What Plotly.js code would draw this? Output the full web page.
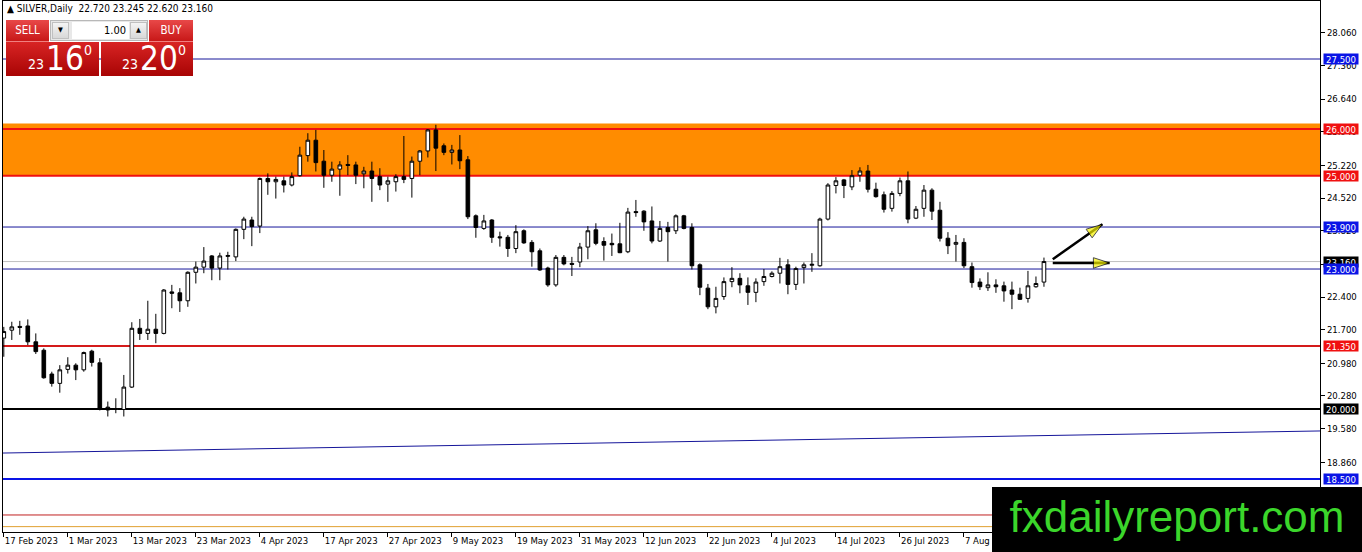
<!DOCTYPE html>
<html>
<head>
<meta charset="utf-8">
<script src="https://cdn.plot.ly/plotly-3.0.1.min.js"></script>
<style>
  html, body { margin:0; padding:0; background:#fff; }
  #wrap { position:relative; width:1362px; height:552px; overflow:hidden; }
  #chart { position:absolute; left:0; top:0; width:1362px; height:552px; }
  .ov { position:absolute; font-family:"DejaVu Sans Condensed","DejaVu Sans",sans-serif; }
  #hdr { left:7px; top:3px; font-size:10px; color:#000; white-space:pre; }
  .btn { top:20px; height:22px; color:#fff; font-size:11.5px; text-align:center; line-height:21px;
         background:linear-gradient(#e84848,#c81818); border-bottom:1px solid #f08080; box-sizing:border-box; }
  .big { top:42px; height:34px; background:linear-gradient(#d82424,#a80404); color:#fff; }
  .big span { position:absolute; }
  #lots { left:50px; top:20px; width:98px; height:21px; background:#e8e8e8; border:1px solid #b8b8b8; box-sizing:border-box; }
  .arr { position:absolute; top:1px; width:17px; height:17px; background:linear-gradient(#f4f4f4,#d8d8d8); border:1px solid #c0c0c0; box-sizing:border-box;
         font-size:7px; text-align:center; line-height:15px; color:#000; }
  #fld { position:absolute; left:21px; top:1px; width:57px; height:17px; background:#fff; font-size:11px; text-align:right; line-height:17px; padding-right:3px; box-sizing:border-box; color:#000; }
  #wm { left:992px; top:487px; width:370px; height:65px; background:#000; color:#3bd62b;
        font-family:"Liberation Sans",Arial,sans-serif; font-size:44px; line-height:60px; text-align:center; }
</style>
</head>
<body>
<div id="wrap">
<div id="chart"></div>
<div class="ov" id="hdr">▲ SILVER,Daily  22.720 23.245 22.620 23.160</div>
<div class="ov btn" style="left:6px;width:43px;">SELL</div>
<div class="ov" id="lots">
  <div class="arr" style="left:1px;">▼</div>
  <div id="fld">1.00</div>
  <div class="arr" style="left:79px;">▲</div>
</div>
<div class="ov btn" style="left:149px;width:44px;">BUY</div>
<div class="ov big" style="left:6px;width:93px;">
  <span style="left:22px;top:14px;font-size:14px;">23</span>
  <span style="left:40px;top:-3px;font-size:33px;">16</span>
  <span style="left:78px;top:0px;font-size:14px;">0</span>
</div>
<div class="ov big" style="left:101px;width:92px;">
  <span style="left:21px;top:14px;font-size:14px;">23</span>
  <span style="left:39px;top:-3px;font-size:33px;">20</span>
  <span style="left:77px;top:0px;font-size:14px;">0</span>
</div>
<div class="ov" id="wm">fxdailyreport.com</div>
</div>
<script>
// ---- data (SILVER, Daily) ----
const openP = [21.52,21.69,21.77,21.78,21.44,21.26,20.75,20.55,20.85,20.94,20.84,21.24,20.99,20.04,19.99,19.99,20.47,21.73,21.62,21.71,
21.62,22.51,22.49,22.32,22.93,23.04,23.28,23.02,23.27,23.26,23.85,24.05,23.92,24.94,24.87,24.89,24.80,25.00,25.43,25.76,
25.31,25.01,25.14,25.24,25.23,25.04,25.10,24.98,24.82,24.87,24.98,24.94,25.31,25.53,25.98,25.64,25.50,25.55,25.34,24.14,
23.87,24.05,23.69,23.68,23.44,23.82,23.57,23.39,23.02,22.66,23.25,23.12,23.15,23.47,23.84,23.59,23.55,23.54,23.37,24.23,
24.24,24.03,23.60,23.89,23.82,24.14,23.89,23.09,22.59,22.19,22.41,22.73,22.80,22.64,22.50,22.73,22.84,22.91,23.09,22.67,
23.03,23.08,23.07,24.07,24.79,24.91,24.76,25.01,25.10,24.71,24.59,24.30,24.62,24.89,24.09,24.30,24.69,24.26,23.66,23.53,
23.57,23.05,22.72,22.60,22.66,22.64,22.55,22.46,22.37,22.62,22.72];
const highP = [21.76,21.87,21.89,21.92,21.62,21.30,20.80,20.94,21.11,20.98,21.23,21.27,21.09,20.16,20.23,20.73,21.86,21.93,22.32,22.04,
22.57,22.66,22.59,22.95,23.16,23.47,23.30,23.35,23.37,23.87,24.12,24.12,24.96,25.05,24.98,24.98,25.07,25.62,25.91,25.98,
25.55,25.30,25.31,25.44,25.30,25.19,25.30,25.16,24.98,25.03,25.85,25.41,25.55,26.00,26.09,25.69,25.66,25.87,25.42,24.17,
24.16,24.07,23.80,23.73,23.94,23.85,23.62,23.44,23.05,23.30,23.30,23.26,23.56,23.92,23.98,23.68,23.76,23.99,24.31,24.48,
24.26,24.34,24.03,24.01,24.17,24.16,23.98,23.12,22.68,22.62,22.82,23.04,22.91,22.82,22.80,23.00,22.95,23.24,23.21,23.05,
23.14,23.34,24.10,24.84,24.97,24.93,25.12,25.18,25.23,24.85,24.66,24.67,24.96,25.09,24.35,24.80,24.73,24.44,23.79,23.73,
23.66,23.14,22.80,22.93,22.78,22.73,22.73,22.60,22.96,22.84,23.245];
const lowP = [21.12,21.48,21.59,21.37,21.18,20.65,20.48,20.35,20.76,20.62,20.80,20.91,19.97,19.84,19.91,19.84,20.45,21.48,21.48,21.41,
21.60,22.16,22.08,22.19,22.69,22.91,22.76,22.76,22.99,23.17,23.64,23.49,23.77,24.59,24.51,24.64,24.77,24.98,25.30,25.09,
24.74,24.87,24.57,25.01,24.82,24.73,24.44,24.69,24.44,24.66,24.84,24.53,25.01,25.39,25.10,25.44,25.24,25.14,24.07,23.67,
23.84,23.56,23.48,23.26,23.34,23.54,23.05,22.96,22.62,22.62,23.08,22.85,23.04,23.21,23.51,23.18,23.28,23.34,23.34,24.12,
23.82,23.55,23.58,23.16,23.75,23.85,22.99,22.44,22.14,22.05,22.34,22.61,22.48,22.23,22.29,22.64,22.82,22.69,22.46,22.55,
22.69,22.94,23.05,24.04,24.62,24.52,24.69,24.87,24.64,24.53,24.21,24.23,24.56,23.98,24.07,24.12,24.05,23.59,23.32,23.16,
23.02,22.60,22.55,22.53,22.49,22.30,22.14,22.34,22.28,22.60,22.62];
const closeP = [21.66,21.76,21.75,21.44,21.23,20.67,20.55,20.84,20.94,20.84,21.21,21.00,20.00,19.98,20.01,20.47,21.73,21.62,21.71,21.62,
22.55,22.48,22.32,22.93,23.04,23.17,23.02,23.28,23.29,23.85,24.07,23.91,24.94,24.87,24.92,24.80,24.98,25.44,25.76,25.28,
25.01,25.14,25.23,25.22,25.01,25.10,24.94,24.80,24.89,24.98,24.92,25.31,25.53,25.98,25.59,25.50,25.55,25.32,24.12,23.89,
24.03,23.68,23.67,23.44,23.80,23.56,23.37,22.98,22.66,23.25,23.11,23.10,23.47,23.82,23.55,23.51,23.52,23.35,24.22,24.21,
24.01,23.60,23.87,23.80,24.14,23.87,23.07,22.61,22.19,22.37,22.73,22.80,22.66,22.50,22.72,22.84,22.91,23.05,22.67,23.01,
23.09,23.10,24.07,24.80,24.89,24.79,25.00,25.10,24.71,24.55,24.28,24.62,24.89,24.07,24.28,24.69,24.24,23.66,23.50,23.57,
23.07,22.71,22.62,22.66,22.62,22.53,22.46,22.35,22.64,22.69,23.16];
const dateLabels = ['17 Feb 2023','1 Mar 2023','13 Mar 2023','23 Mar 2023','4 Apr 2023','17 Apr 2023','27 Apr 2023','9 May 2023',
'19 May 2023','31 May 2023','12 Jun 2023','22 Jun 2023','4 Jul 2023','14 Jul 2023','26 Jul 2023','7 Aug 2023'];
const priceTicks = [18.86,19.58,20.28,20.98,21.70,22.40,23.10,23.82,24.52,25.22,25.94,26.64,27.36,28.06];
// horizontal levels: value, colour, width, label background (null = no label)
const levelValues = [27.5, 26.0, 25.0, 23.9, 23.16, 23.0, 21.35, 20.0, 18.5, 17.73, 17.48];
const levelColors = ['#16169a','#f01010','#f01010','#16169a','#c0c0c0','#16169a','#d41a1a','#000000','#0a14e6','#c02020','#e0a030'];
const levelWidths = [1,2,2,1,1,1,2,2,2,1,1];
const levelTags  = ['#0a14e6','#f01010','#f01010','#0a14e6','#000000','#0a14e6','#f01010','#000000','#0a14e6',null,null];
const zoneLow = 25.0, zoneHigh = 26.12;
const trendStart = 19.057, trendEnd = 19.53;
// arrows drawn after last bar: [x0,y0,x1,y1]
const arrowUp = [131.1, 23.21, 137.3, 23.96];
const arrowFlat = [131.1, 23.13, 138.2, 23.13];

const idx = openP.map((_, i) => i);

const traces = [{
  type:'candlestick', x: idx, open: openP, high: highP, low: lowP, close: closeP,
  increasing:{line:{color:'#000', width:1}, fillcolor:'#ffffff'},
  decreasing:{line:{color:'#000', width:1}, fillcolor:'#000000'},
  whiskerwidth:0, hoverinfo:'skip'
}];
[arrowUp, arrowFlat].forEach(a => {
  traces.push({type:'scatter', mode:'lines', x:[a[0],a[2]], y:[a[1],a[3]],
    line:{color:'#000', width:2.5}, hoverinfo:'skip'});
  traces.push({type:'scatter', mode:'markers', x:[a[0],a[2]], y:[a[1],a[3]],
    marker:{symbol:'arrow', angleref:'previous', size:[0,17], color:'#f4f000', line:{color:'#000', width:1}},
    hoverinfo:'skip'});
});

const shapes = [{type:'rect', xref:'paper', x0:0, x1:1, yref:'y', y0:zoneLow, y1:zoneHigh,
  fillcolor:'#ff8c00', line:{width:0}, layer:'below'}];
levelValues.forEach((v,k) => shapes.push({type:'line', xref:'paper', x0:0, x1:1, yref:'y', y0:v, y1:v,
  line:{color:levelColors[k], width:levelWidths[k]}, layer:'below'}));
shapes.push({type:'line', xref:'paper', x0:0, x1:1, yref:'y', y0:trendStart, y1:trendEnd,
  line:{color:'#16169a', width:1}, layer:'below'});

const annotations = [];
levelValues.forEach((v,k) => {
  if (!levelTags[k]) return;
  annotations.push({xref:'paper', x:1, xanchor:'left', xshift:3, yref:'y', y:v, yanchor:'middle',
    text:v.toFixed(3), showarrow:false, bgcolor:levelTags[k], width:34, height:10, borderpad:0,
    font:{family:'DejaVu Sans Condensed, DejaVu Sans', size:9.5, color:'#fff'}});
});

const tickIdx = dateLabels.map((_, k) => k*8);
const layout = {
  width:1362, height:552, margin:{l:3, r:42, t:1, b:20, pad:0},
  paper_bgcolor:'#fff', plot_bgcolor:'#fff', showlegend:false, hovermode:false,
  font:{family:'DejaVu Sans Condensed, DejaVu Sans', size:9.5, color:'#000'},
  boxgap:0.35,
  xaxis:{range:[-0.1, 164.5], tickmode:'array', tickvals:tickIdx, ticktext:dateLabels, tickangle:0,
    ticks:'outside', ticklen:4, tickcolor:'#000', showgrid:false, zeroline:false,
    showline:true, linecolor:'#000', linewidth:1, mirror:true, ticklabelposition:'outside right',
    rangeslider:{visible:false}, fixedrange:true, tickfont:{size:9.5}},
  yaxis:{side:'right', range:[17.365, 28.743], tickmode:'array', tickvals:priceTicks,
    ticktext:priceTicks.map(v=>v.toFixed(3)), ticks:'outside', ticklen:4, tickcolor:'#000',
    showgrid:false, zeroline:false, showline:true, linecolor:'#000', linewidth:1, mirror:true,
    fixedrange:true, tickfont:{size:9.5}},
  shapes, annotations
};
Plotly.newPlot('chart', traces, layout, {staticPlot:true, displayModeBar:false});
</script>
</body>
</html>
